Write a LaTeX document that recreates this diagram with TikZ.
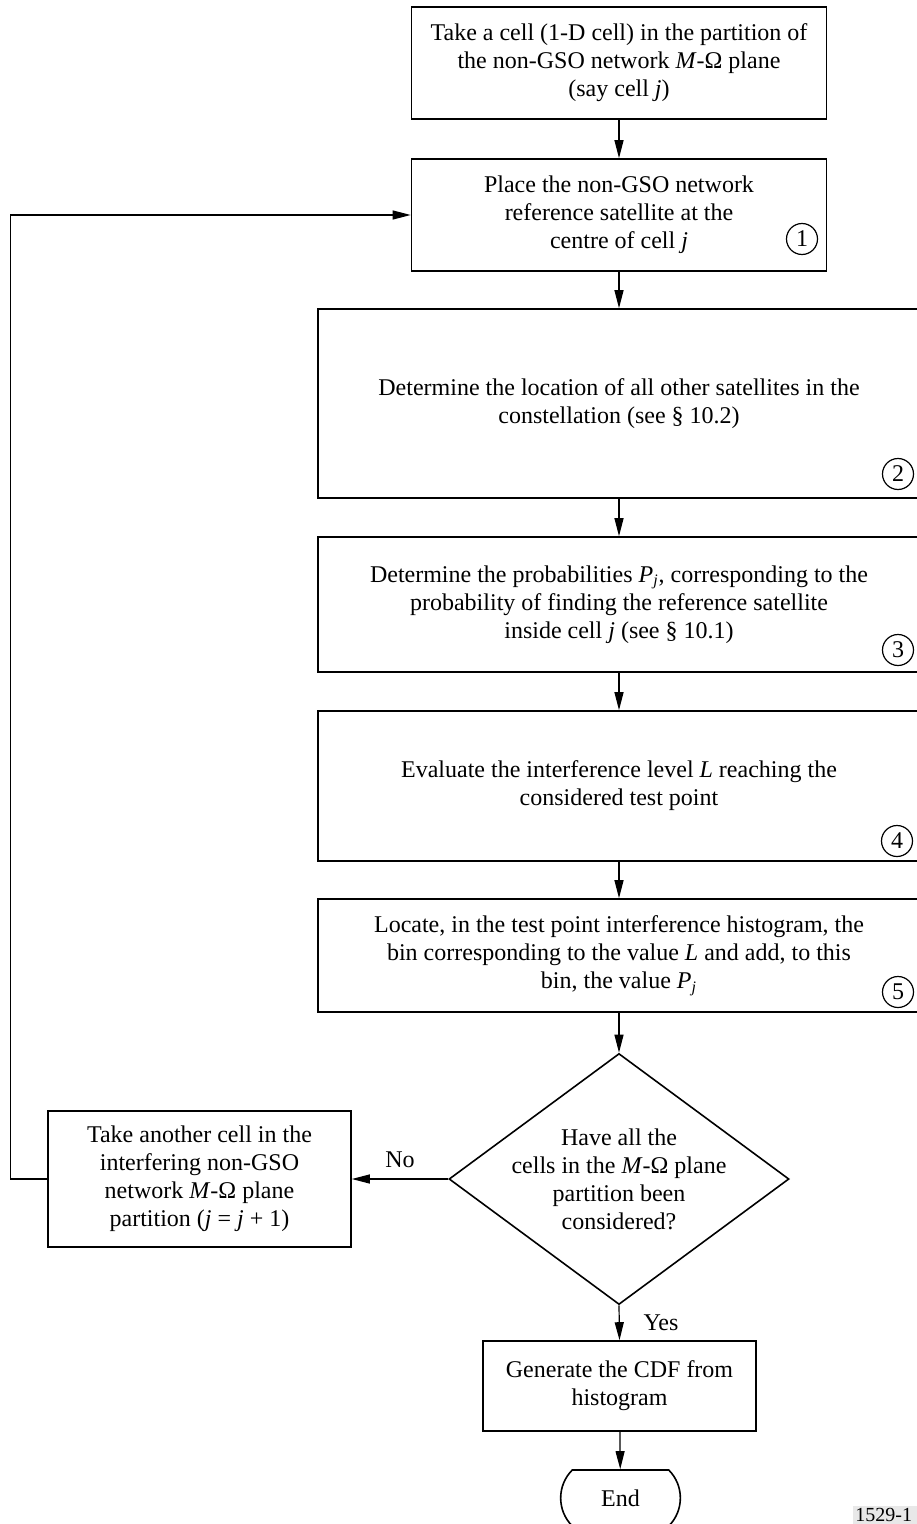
\documentclass[tikz,border=0pt]{standalone}
\usepackage{fontspec}
\setmainfont{Liberation Serif}
\usepackage{tikz}
\usetikzlibrary{shapes.geometric,shapes.misc,arrows.meta}

\begin{document}
\begin{tikzpicture}[x=0.5pt, y=-0.5pt,
    every node/.style={font=\fontsize{12}{14}\selectfont},
    stepbox/.style={draw, line width=0.8pt, align=center, inner sep=0pt},
    numcircle/.style={draw, circle, line width=0.6pt, minimum size=15.5pt, inner sep=0pt},
    flow/.style={line width=0.6pt, -{Triangle[length=9pt, width=4.5pt]}}]
    \useasboundingbox (0,0) rectangle (916,1524);

    % Start box
    \node[stepbox, minimum width=207.5pt, minimum height=56pt] (start) at (619,63)
        {Take a cell (1-D cell) in the partition of\\ the non-GSO network \textit{M}-Ω plane\\ (say cell \textit{j})};

    % Step 1
    \node[stepbox, minimum width=207.5pt, minimum height=56pt] (place) at (619,215)
        {Place the non-GSO network\\ reference satellite at the\\ centre of cell \textit{j}};
    \node[numcircle] (n1) at (802,239) {1};

    % Step 2
    \node[stepbox, minimum width=301pt, minimum height=94.5pt] (locate) at (619,403.5)
        {Determine the location of all other satellites in the\\ constellation (see § 10.2)};
    \node[numcircle] (n2) at (898,474) {2};

    % Step 3
    \node[stepbox, minimum width=301pt, minimum height=67.5pt] (prob) at (619,604.5)
        {Determine the probabilities \textit{P}\textsubscript{\textit{j}}, corresponding to the\\ probability of finding the reference satellite\\ inside cell \textit{j} (see § 10.1)};
    \node[numcircle] (n3) at (898,650) {3};

    % Step 4
    \node[stepbox, minimum width=301pt, minimum height=75pt] (eval) at (619,786)
        {Evaluate the interference level \textit{L} reaching the\\ considered test point};
    \node[numcircle] (n4) at (897,841) {4};

    % Step 5
    \node[stepbox, minimum width=301pt, minimum height=56.5pt] (bin) at (619,955.5)
        {Locate, in the test point interference histogram, the\\ bin corresponding to the value \textit{L} and add, to this\\ bin, the value \textit{P}\textsubscript{\textit{j}}};
    \node[numcircle] (n5) at (898,992) {5};

    % Decision
    \node[draw, diamond, line width=0.8pt, minimum width=170pt, minimum height=125.5pt, inner sep=0pt] (check) at (619,1179) {};
    \node[align=center] (checktext) at (check) {Have all the\\ cells in the \textit{M}-Ω plane\\ partition been\\ considered?};

    % Next cell
    \node[stepbox, minimum width=151.5pt, minimum height=68pt] (next) at (199.5,1179)
        {Take another cell in the\\ interfering non-GSO\\ network \textit{M}-Ω plane\\ partition (\textit{j} = \textit{j} + 1)};

    % CDF and end
    \node[stepbox, minimum width=136.5pt, minimum height=45pt] (gen) at (619.5,1386)
        {Generate the CDF from\\ histogram};
    \node[draw, rounded rectangle, rounded rectangle arc length=90, line width=0.8pt,
        minimum width=66.5pt, minimum height=28pt] (end) at (620.5,1498) {End};

    % Connectors
    \draw[flow] (start) -- (place);
    \draw[flow] (place) -- (locate);
    \draw[flow] (locate) -- (prob);
    \draw[flow] (prob) -- (eval);
    \draw[flow] (eval) -- (bin);
    \draw[flow] (bin) -- (check);
    \draw[flow] (check.west) -- node[above=2pt] {No} (next.east);
    \draw[flow] (next.west) -- ++(-37,0) |- (place.west);
    \draw[flow] (check.south) -- node[right=8.5pt] {Yes} (gen.north);
    \draw[flow] (gen) -- (end);

    % Figure number
    \node[anchor=north west, fill=gray!18, inner sep=1pt, text width=40pt, align=left,
        font=\fontsize{10}{11}\selectfont] (fignum) at (853,1506) {1529-1};
\end{tikzpicture}
\end{document}
